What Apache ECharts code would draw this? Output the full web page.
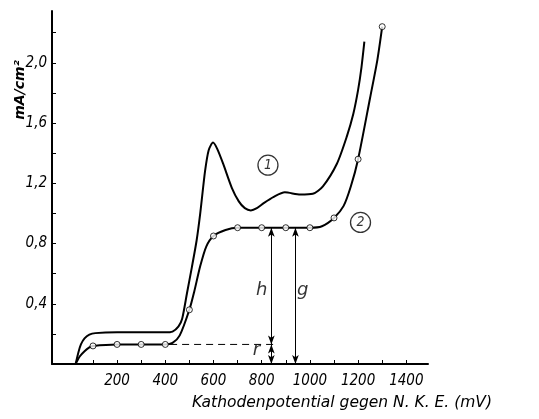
<!DOCTYPE html>
<html>
<head>
<meta charset="utf-8">
<script src="https://cdn.jsdelivr.net/npm/echarts@6/dist/echarts.min.js"></script>
<style>
  html, body { margin: 0; padding: 0; background: #fff; }
  #chart { width: 539px; height: 419px; }
</style>
</head>
<body>
<div id="chart"></div>
<script>
// Kurve 1: ohne Zusatz, Kurve 2: mit Messpunkten (mV, mA/cm²)
const curve1 = [
  [28, 0], [40, 0.08], [50, 0.13], [65, 0.17], [85, 0.195], [110, 0.205],
  [200, 0.21], [300, 0.21], [400, 0.21], [430, 0.215], [455, 0.25], [470, 0.3],
  [490, 0.47], [510, 0.64], [530, 0.82], [545, 1.0], [565, 1.28], [580, 1.42],
  [598, 1.47], [615, 1.43], [640, 1.33], [676, 1.17], [705, 1.08], [730, 1.035],
  [755, 1.02], [780, 1.035], [810, 1.07], [850, 1.11], [896, 1.14], [960, 1.125],
  [1012, 1.13], [1054, 1.18], [1112, 1.33], [1153, 1.51], [1180, 1.66],
  [1200, 1.82], [1214, 1.97], [1226, 2.14]
]
const curve2 = [
  [28, 0], [45, 0.05], [65, 0.085], [85, 0.11], [100, 0.12], [200, 0.13],
  [300, 0.13], [400, 0.13], [430, 0.14], [460, 0.19], [500, 0.36], [520, 0.48],
  [545, 0.65], [570, 0.78], [600, 0.85], [650, 0.89], [700, 0.905], [800, 0.905],
  [900, 0.905], [1000, 0.905], [1050, 0.915], [1100, 0.97], [1140, 1.05],
  [1170, 1.18], [1200, 1.36], [1250, 1.77], [1280, 2.02], [1300, 2.24]
]
const points2 = [
  [100, 0.12], [200, 0.13], [300, 0.13], [400, 0.13], [500, 0.36], [600, 0.85],
  [700, 0.905], [800, 0.905], [900, 0.905], [1000, 0.905], [1100, 0.97],
  [1200, 1.36], [1300, 2.24]
]
const xTicks = [100, 200, 300, 400, 500, 600, 700, 800, 900, 1000, 1100, 1200, 1300, 1400]
const xLabels = [200, 400, 600, 800, 1000, 1200, 1400]
const yTicks = [0.2, 0.4, 0.6, 0.8, 1.0, 1.2, 1.4, 1.6, 1.8, 2.0, 2.2]
const yLabels = [0.4, 0.8, 1.2, 1.6, 2.0]

// Hilfslinien: r-Niveau und Pfeile h, r, g (x, y von, y bis)
const rLevel = [[420, 0.13], [865, 0.13]]
const arrows = [[840, 0.13, 0.905], [840, 0, 0.13], [940, 0, 0.905]]
const circled = [[826, 1.32, '1'], [1210, 0.94, '2']]
const letters = [[800, 0.49, 'h'], [970, 0.49, 'g'], [778, 0.09, 'r']]

const numFont = "'Liberation Sans Narrow', 'DejaVu Sans Condensed', sans-serif"

const chart = echarts.init(document.getElementById('chart'))

chart.setOption({
  animation: false,
  backgroundColor: '#fff',
  grid: { left: 52, right: 111, top: 11, bottom: 55 },
  xAxis: {
    type: 'value',
    min: -70,
    max: 1490,
    splitLine: { show: false },
    axisLine: { onZero: false, lineStyle: { color: '#000', width: 2 } },
    axisTick: { inside: true, length: 4, customValues: xTicks, lineStyle: { color: '#000', width: 1 } },
    axisLabel: {
      customValues: xLabels,
      margin: 10,
      color: '#000',
      fontSize: 15,
      fontStyle: 'italic',
      fontFamily: numFont,
      formatter: v => String(v)
    }
  },
  yAxis: {
    type: 'value',
    min: 0,
    max: 2.344,
    splitLine: { show: false },
    axisLine: { onZero: false, lineStyle: { color: '#000', width: 2 } },
    axisTick: { inside: true, length: 4, customValues: yTicks, lineStyle: { color: '#000', width: 1 } },
    axisLabel: {
      customValues: yLabels,
      margin: 5,
      color: '#000',
      fontSize: 15,
      fontStyle: 'italic',
      fontFamily: numFont,
      formatter: v => v.toFixed(1).replace('.', ',')
    }
  },
  graphic: [
    {
      type: 'text',
      x: 20, y: 90,
      rotation: Math.PI / 2,
      style: {
        text: 'mA/cm²',
        fill: '#000',
        font: "italic bold 14px 'DejaVu Sans', sans-serif",
        align: 'center',
        verticalAlign: 'middle'
      }
    },
    {
      type: 'text',
      left: 192, top: 395,
      style: {
        text: 'Kathodenpotential gegen N. K. E. (mV)',
        fill: '#000',
        font: "italic 15.5px 'DejaVu Sans', sans-serif"
      }
    }
  ],
  series: [
    {
      type: 'line',
      data: curve1,
      smooth: 0.25,
      symbol: 'none',
      lineStyle: { color: '#000', width: 2 }
    },
    {
      type: 'line',
      data: curve2,
      smooth: 0.25,
      symbol: 'none',
      lineStyle: { color: '#000', width: 2 }
    },
    {
      type: 'scatter',
      data: points2,
      symbol: 'circle',
      symbolSize: 6,
      itemStyle: { color: '#fff', borderColor: '#000', borderWidth: 1 },
      z: 5
    },
    {
      type: 'line',
      data: rLevel,
      symbol: 'none',
      lineStyle: { color: '#000', width: 1, type: [7, 5] },
      markLine: {
        silent: true,
        symbol: ['arrow', 'arrow'],
        symbolSize: [5, 9],
        label: { show: false },
        lineStyle: { color: '#000', width: 1, type: 'solid' },
        data: arrows.map(a => [{ coord: [a[0], a[1]] }, { coord: [a[0], a[2]] }])
      }
    },
    {
      type: 'scatter',
      data: circled,
      symbol: 'circle',
      symbolSize: 20,
      itemStyle: { color: '#fff', borderColor: '#000', borderWidth: 1.3 },
      label: {
        show: true,
        position: 'inside',
        formatter: p => p.value[2],
        color: '#000',
        fontSize: 14,
        fontStyle: 'italic',
        fontFamily: numFont
      }
    },
    {
      type: 'scatter',
      data: letters,
      symbolSize: 0,
      label: {
        show: true,
        position: 'inside',
        formatter: p => p.value[2],
        color: '#000',
        fontSize: 18,
        fontStyle: 'italic',
        fontFamily: "'DejaVu Sans', sans-serif"
      }
    }
  ]
})
</script>
</body>
</html>
